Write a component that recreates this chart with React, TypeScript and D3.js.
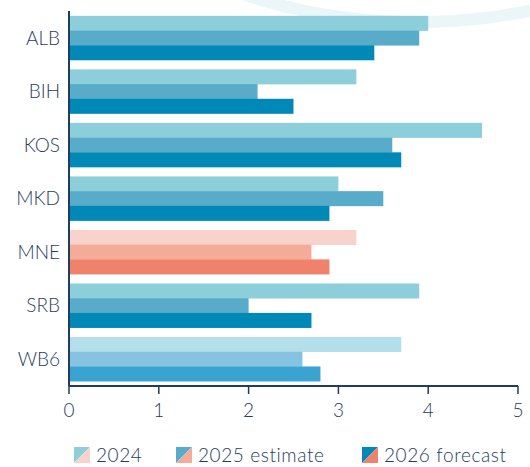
import React from 'react';
import * as d3 from 'd3';

const countries = ['ALB', 'BIH', 'KOS', 'MKD', 'MNE', 'SRB', 'WB6'];
const seriesNames = ['2024', '2025 estimate', '2026 forecast'];
const values2024 = [4.0, 3.2, 4.6, 3.0, 3.2, 3.9, 3.7];
const values2025 = [3.9, 2.1, 3.6, 3.5, 2.7, 2.0, 2.6];
const values2026 = [3.4, 2.5, 3.7, 2.9, 2.9, 2.7, 2.8];
const xTicks = [0, 1, 2, 3, 4, 5];

const blues = ['#8ccfda', '#58abc9', '#0089b7'];
const pinks = ['#f9d3cb', '#f5ab99', '#f0826c'];
const lightBlues = ['#b3dfea', '#85c4e0', '#3aa3d2'];
const ink = '#1f3d5e';

function paletteFor(country: string) {
  if (country === 'MNE') return pinks;
  if (country === 'WB6') return lightBlues;
  return blues;
}

export default function App() {
  const width = 530;
  const height = 467;
  const left = 69;
  const right = 518;
  const top = 11;
  const bottom = 386;

  const series = [values2024, values2025, values2026];

  const x = d3.scaleLinear().domain([0, 5]).range([left, right]);
  const y = d3.scaleBand<string>()
    .domain(countries)
    .range([top, bottom])
    .paddingInner(0.175)
    .paddingOuter(0.09);
  const inner = d3.scaleBand<number>()
    .domain([0, 1, 2])
    .range([0, y.bandwidth()]);

  // faint decorative arc in the top right
  const arcPts = d3.range(0, 181).map(i => {
    const t = (i / 180) * Math.PI;
    return [417 + 341 * Math.cos(t), -178 + 200 * Math.sin(t)] as [number, number];
  });
  const arcPath = d3.line()(arcPts) || '';

  const legendX = [74, 176, 362];

  return (
    <svg
      width={width}
      height={height}
      style={{ position: 'absolute', left: 0, top: 0, fontFamily: 'Lato, sans-serif', fontWeight: 300 }}
    >
      <path d={arcPath} fill="none" stroke="#eaf6f8" strokeWidth={12} />

      {countries.map((c, i) => {
        const pal = paletteFor(c);
        return (
          <g key={c}>
            {series.map((vals, s) => (
              <rect
                key={s}
                x={x(0)}
                y={(y(c) ?? 0) + (inner(s) ?? 0)}
                width={x(vals[i]) - x(0)}
                height={inner.bandwidth() + 0.3}
                fill={pal[s]}
              />
            ))}
            <text
              x={60}
              y={(y(c) ?? 0) + y.bandwidth() / 2}
              dy="0.36em"
              textAnchor="end"
              fontSize={19}
              fill={ink}
            >
              {c}
            </text>
          </g>
        );
      })}

      <line x1={left} x2={left} y1={top} y2={bottom} stroke={ink} strokeWidth={2} />
      <line x1={left} x2={right} y1={bottom} y2={bottom} stroke={ink} strokeWidth={2} />
      {xTicks.map(t => (
        <g key={t}>
          <line x1={x(t)} x2={x(t)} y1={bottom} y2={bottom + 8} stroke={ink} strokeWidth={1.5} />
          <text x={x(t)} y={417} textAnchor="middle" fontSize={19} fill={ink}>
            {t}
          </text>
        </g>
      ))}

      {seriesNames.map((name, s) => (
        <g key={name} transform={`translate(${legendX[s]}, 447)`}>
          <polygon points="0,0 16,0 0,16" fill={blues[s]} />
          <polygon points="16,0 16,16 0,16" fill={pinks[s]} />
          <text x={22} y={15} fontSize={19} letterSpacing={0.6} fill={ink}>
            {name}
          </text>
        </g>
      ))}
    </svg>
  );
}
